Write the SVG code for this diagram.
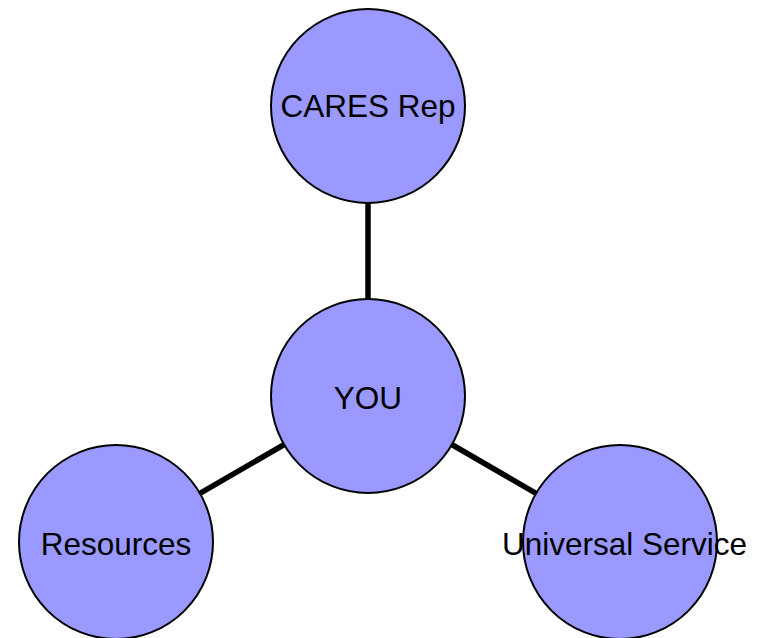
<svg xmlns="http://www.w3.org/2000/svg" width="759" height="638" viewBox="0 0 759 638">
<style>
.node circle{fill:#9999ff;stroke:#000;stroke-width:2}
.node text{font-family:"Liberation Sans",Arial,sans-serif;font-size:31.5px;fill:#000;text-anchor:middle}
.conn line{stroke:#000;stroke-width:5.5}
</style>
<rect width="759" height="638" fill="#fff"/>
<g id="connectors" class="conn">
<line x1="368" y1="106" x2="368" y2="396"/>
<line x1="368" y1="396" x2="116" y2="542"/>
<line x1="368" y1="396" x2="620" y2="542"/>
</g>
<g id="node-cares" class="node"><circle cx="368" cy="106" r="97"/><text x="368" y="117">CARES Rep</text></g>
<g id="node-you" class="node"><circle cx="368" cy="396" r="97"/><text x="368" y="409">YOU</text></g>
<g id="node-resources" class="node"><circle cx="116" cy="542" r="97"/><text x="116" y="555">Resources</text></g>
<g id="node-universal" class="node"><circle cx="620" cy="542" r="97"/><text x="624.5" y="555">Universal Service</text></g>
</svg>
